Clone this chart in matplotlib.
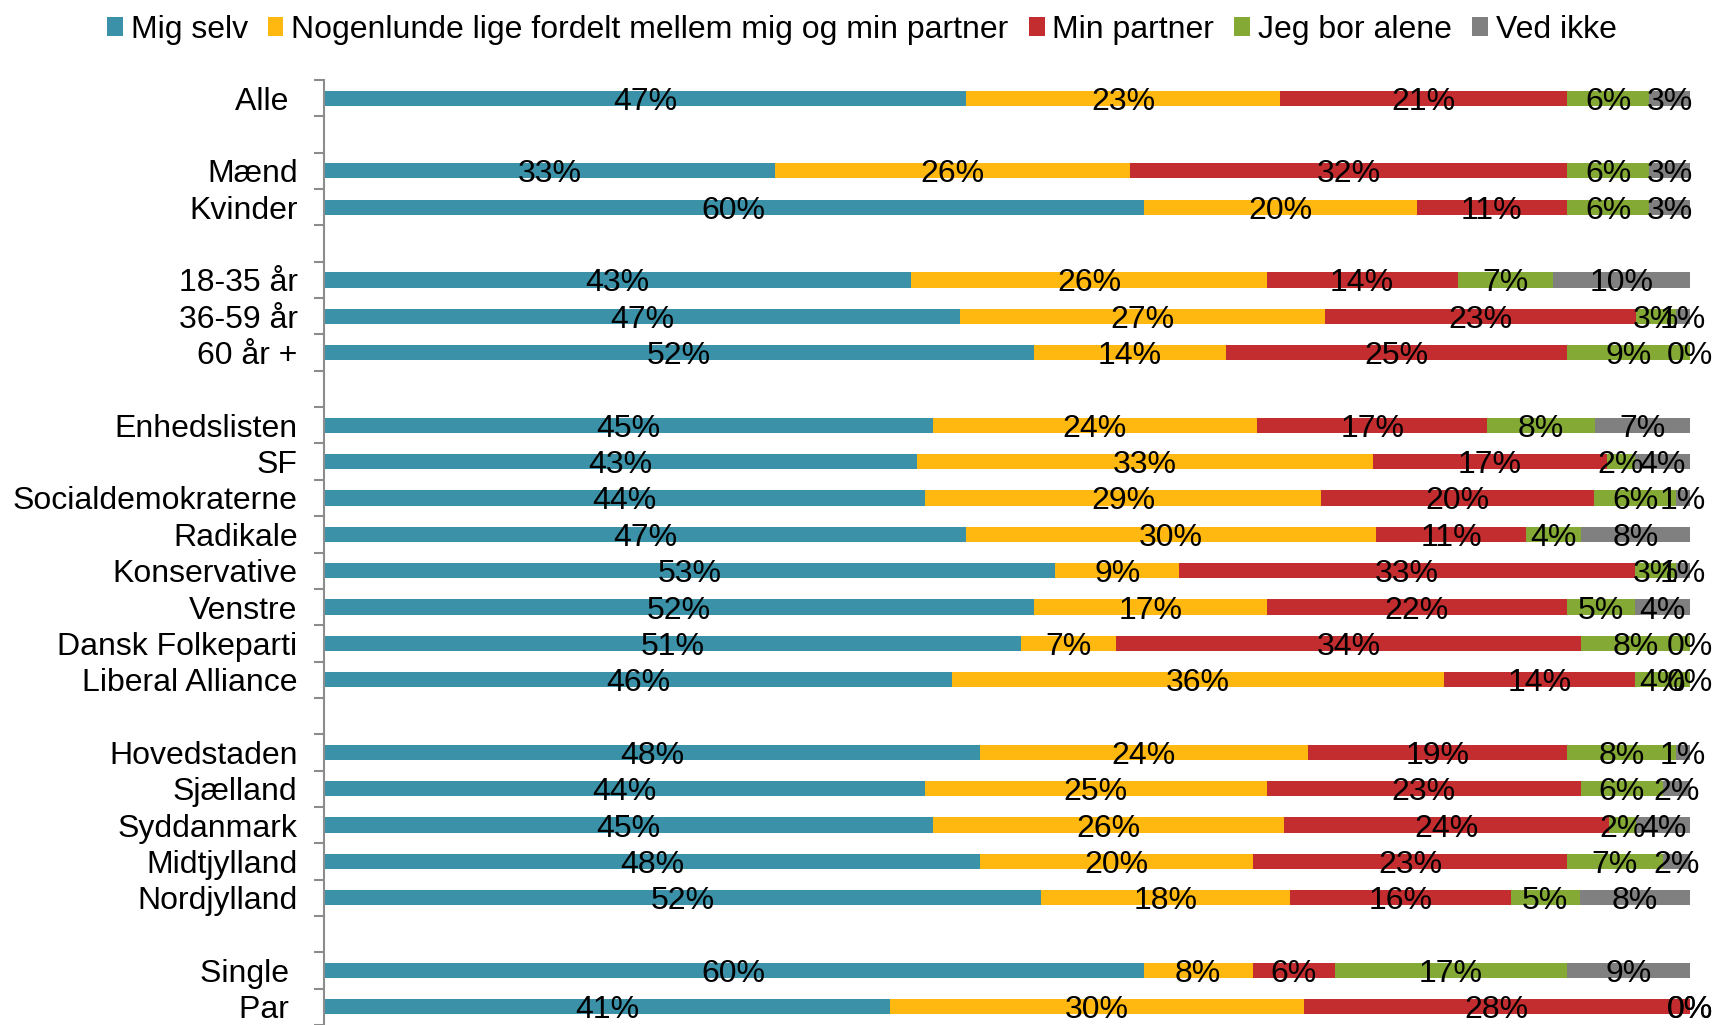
import matplotlib
matplotlib.use("Agg")
import matplotlib.pyplot as plt
import numpy as np
from matplotlib.patches import Patch

plt.rcParams['font.family'] = ['Liberation Sans', 'DejaVu Sans']

categories = ["Alle ", "", "Mænd", "Kvinder", "", "18-35 år", "36-59 år", "60 år +", "",
              "Enhedslisten", "SF", "Socialdemokraterne", "Radikale", "Konservative",
              "Venstre", "Dansk Folkeparti", "Liberal Alliance", "",
              "Hovedstaden", "Sjælland", "Syddanmark", "Midtjylland", "Nordjylland", "",
              "Single ", "Par "]

series_names = ["Mig selv", "Nogenlunde lige fordelt mellem mig og min partner",
                "Min partner", "Jeg bor alene", "Ved ikke"]

mig_selv = [47, None, 33, 60, None, 43, 47, 52, None, 45, 43, 44, 47, 53, 52, 51, 46, None, 48, 44, 45, 48, 52, None, 60, 41]
ligeligt = [23, None, 26, 20, None, 26, 27, 14, None, 24, 33, 29, 30, 9, 17, 7, 36, None, 24, 25, 26, 20, 18, None, 8, 30]
partner = [21, None, 32, 11, None, 14, 23, 25, None, 17, 17, 20, 11, 33, 22, 34, 14, None, 19, 23, 24, 23, 16, None, 6, 28]
alene = [6, None, 6, 6, None, 7, 3, 9, None, 8, 2, 6, 4, 3, 5, 8, 4, None, 8, 6, 2, 7, 5, None, 17, 0]
ved_ikke = [3, None, 3, 3, None, 10, 1, 0, None, 7, 4, 1, 8, 1, 4, 0, 0, None, 1, 2, 4, 2, 8, None, 9, 0]

colors = ["#3A91A8", "#FFB80F", "#C42D30", "#84A934", "#808080"]

series = [mig_selv, ligeligt, partner, alene, ved_ikke]

FS = 23

fig = plt.figure(figsize=(17.13, 10.25), dpi=100)
ax = fig.add_axes([324/1713, 0.0, (1690-324)/1713, 1-80/1025])

n = len(categories)
y = np.arange(n)
data = np.array([[np.nan if v is None else v for v in s] for s in series], dtype=float)
totals = np.nansum(data, axis=0)
left = np.zeros(n)
for k, s in enumerate(data):
    frac = np.where(np.isnan(s), 0, s) / np.where(totals == 0, 1, totals)
    mask = ~np.isnan(s)
    ax.barh(y[mask], frac[mask], left=left[mask], height=0.42, color=colors[k],
            edgecolor='none')
    for i in np.where(mask)[0]:
        ax.text(left[i] + frac[i] / 2, y[i], f"{int(s[i])}%", ha='center',
                va='center_baseline', fontsize=FS, color='black')
    left = left + frac

ax.set_xlim(0, 1)
ax.set_ylim(n - 0.5, -0.5)
ax.set_yticks(y)
ax.set_yticklabels(categories, fontsize=FS)
ax.set_yticks(np.arange(-0.5, n, 1), minor=True)
ax.tick_params(axis='y', which='major', length=0, pad=19)
ax.tick_params(axis='y', which='minor', length=7, width=1.5, color='#8c8c8c', direction='out')
ax.set_xticks([])
for sp in ['top', 'right', 'bottom']:
    ax.spines[sp].set_visible(False)
ax.spines['left'].set_color('#8c8c8c')
ax.spines['left'].set_linewidth(1.5)

handles = [Patch(facecolor=c, edgecolor='none') for c in colors]
fig.legend(handles, series_names, loc='upper center', bbox_to_anchor=(0.503, 0.998),
           ncol=5, frameon=False, fontsize=FS, handlelength=0.5, handleheight=0.5,
           handletextpad=0.25, columnspacing=0.62, borderaxespad=0.0)

fig.savefig("out.png", dpi=100)
